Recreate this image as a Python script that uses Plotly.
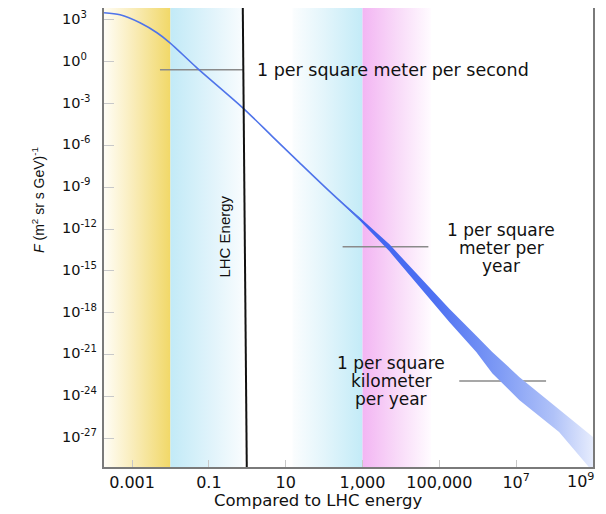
import numpy as np
import plotly.graph_objects as go

# ---- data (x: energy relative to LHC energy, y: flux F in (m^2 sr s GeV)^-1) ----
curve_energy = [1.87e-4, 4.88e-4, 1.61e-3, 4.46e-3, 9.7e-3, 0.0488, 0.764, 4.59, 23.1, 139]
curve_flux = [3300, 2370, 631, 121, 23.1, 0.371, 4.99e-4, 4.13e-6, 5.61e-8, 5.0e-10]

band_energy = [139, 836, 5020, 30300, 1.82e5, 9.14e5, 2.38e6, 1.20e7, 1.31e8, 1e9]
band_upper = [5.0e-10, 6.87e-12, 7.93e-14, 3.68e-16, 1.86e-18, 2.14e-20, 1.52e-21,
              2.44e-23, 1.23e-25, 1.20e-27]
band_lower = [5.0e-10, 4.19e-12, 2.49e-14, 7.05e-17, 2.16e-19, 1.52e-21, 4.47e-23,
              5.45e-25, 2.75e-27, 3.69e-30]

rate_labels = ["1 per square meter per second",
               ["1 per square", "meter per", "year"],
               ["1 per square", "kilometer", "per year"]]
rate_flux = [0.267, 5.24e-14, 1.26e-23]
rate_x0 = [5.33e-3, 303, 3.30e5]
rate_x1 = [0.764, 5.18e4, 6.0e7]
rate_label_x = [1.57, 4.07e6, 5.66e3]
rate_label_y = [0.267, 4.47e-14, 1.26e-23]

lhc_x = [0.97, 0.764]          # LHC energy marker (bottom, top)
lhc_label = "LHC Energy"

region_edges = [(1.86e-4, 0.01), (0.01, 0.76), (15, 1000), (1000, 6e4)]
region_colors = [
    [[0, "#fffdf6"], [0.45, "#f9ecb8"], [1, "#f1d868"]],
    [[0, "#c2eaf7"], [0.6, "#e2f4fb"], [1, "#f8fcfe"]],
    [[0, "#fbfdfe"], [0.45, "#e3f5fb"], [1, "#c3ebf7"]],
    [[0, "#f3b5f3"], [0.5, "#f8d9f8"], [1, "#fffbff"]],
]

x_tickvals = [1e-3, 0.1, 10, 1000, 1e5, 1e7, 1e9]
x_ticktext = ["0.001", "0.1", "10", "1,000", "100,000", "10<sup>7</sup>", "10<sup>9</sup>"]
y_tick_exp = list(range(3, -28, -3))

x_range = [-3.73, 9.0]
y_range = [-29.08, 3.86]

fig = go.Figure()

ylo, yhi = 10 ** y_range[0] / 10, 10 ** y_range[1] * 10
for (a, b), cs in zip(region_edges, region_colors):
    fig.add_trace(go.Scatter(
        x=[a, b, b, a, a], y=[ylo, ylo, yhi, yhi, ylo],
        mode="lines", line=dict(width=0), fill="toself",
        fillgradient=dict(type="horizontal", colorscale=cs),
        hoverinfo="skip", showlegend=False))

# reference rate lines
for x0, x1, f in zip(rate_x0, rate_x1, rate_flux):
    fig.add_trace(go.Scatter(x=[x0, x1], y=[f, f], mode="lines",
                             line=dict(color="#8a8a8a", width=1.5),
                             hoverinfo="skip", showlegend=False))

# uncertainty band
bx = band_energy + band_energy[::-1]
by = band_upper + band_lower[::-1]
fig.add_trace(go.Scatter(
    x=bx, y=by, mode="lines", line=dict(width=0), fill="toself",
    fillgradient=dict(type="horizontal", colorscale=[
        [0, "#3a5cf0"], [0.4, "#4e71f2"], [0.65, "#809cf5"],
        [0.85, "#b0c2f8"], [1, "#e6ecfd"]]),
    hoverinfo="skip", showlegend=False))

# thin flux curve
center = list(np.sqrt(np.array(band_upper[:2]) * np.array(band_lower[:2])))
fig.add_trace(go.Scatter(
    x=curve_energy + band_energy[1:2], y=curve_flux + center[1:2],
    mode="lines", line=dict(color="#4f74ea", width=1.6, shape="spline", smoothing=0.8),
    hoverinfo="skip", showlegend=False))

# LHC energy line
fig.add_trace(go.Scatter(x=lhc_x, y=[10 ** y_range[0], 10 ** y_range[1]], mode="lines",
                         line=dict(color="#111111", width=2),
                         hoverinfo="skip", showlegend=False))

txt_font = dict(family="DejaVu Sans", size=17, color="#111111")
ann = []
ann.append(dict(x=np.log10(rate_label_x[0]), y=np.log10(rate_label_y[0]), xref="x", yref="y",
                text=rate_labels[0], showarrow=False, xanchor="left", yanchor="middle",
                font=dict(family="DejaVu Sans", size=17.5, color="#111111")))
for k in (1, 2):
    for i, line in enumerate(rate_labels[k]):
        ann.append(dict(x=np.log10(rate_label_x[k]), y=np.log10(rate_label_y[k]),
                        xref="x", yref="y", text=line, showarrow=False,
                        xanchor="center", yanchor="middle", yshift=(1 - i) * 18,
                        font=txt_font))
ann.append(dict(x=np.log10(0.26), y=-12.56, xref="x", yref="y", text=lhc_label,
                textangle=-90, showarrow=False,
                font=dict(family="Liberation Sans", size=15, color="#111111")))
# y tick labels
for e in y_tick_exp:
    ann.append(dict(x=-0.09, y=e, xref="paper", yref="y",
                    text="10<sup>%d</sup>" % e, showarrow=False,
                    xanchor="left", yanchor="middle", yshift=2,
                    font=dict(family="DejaVu Sans", size=14.5, color="#111111")))
# last x tick label, kept inside the visible window
ann.append(dict(x=np.log10(x_tickvals[-1]), y=0, xref="x", yref="paper",
                text=x_ticktext[-1], showarrow=False, xanchor="right", yanchor="top",
                xshift=3, yshift=-1,
                font=dict(family="DejaVu Sans", size=16, color="#111111")))
# axis titles
ann.append(dict(x=-0.1575, y=0.5817, xref="paper", yref="paper",
                text="<i>F</i> (m<sup>2</sup> sr s GeV)<sup>-1</sup>", textangle=-90,
                showarrow=False, font=dict(family="Liberation Sans", size=14, color="#111111")))
ann.append(dict(x=0.437, y=-0.072, xref="paper", yref="paper", yanchor="middle",
                text="Compared to LHC energy", showarrow=False,
                font=dict(family="DejaVu Sans", size=16.5, color="#111111")))

# page body has an 8px margin: figure is shifted by (8, 8)
fig.update_layout(
    width=606, height=506,
    margin=dict(l=96, r=21, t=0, b=47),
    paper_bgcolor="white", plot_bgcolor="white",
    showlegend=False, annotations=ann,
    xaxis=dict(type="log", range=x_range, tickvals=x_tickvals,
               ticktext=x_ticktext[:-1] + [""],
               ticks="inside", ticklen=7, tickcolor="#c8c8c8", tickwidth=1.2,
               showgrid=False, zeroline=False, showline=True, mirror=True,
               linecolor="#7a7a7a", linewidth=1.5, automargin=False,
               ticklabelstandoff=0,
               tickfont=dict(family="DejaVu Sans", size=16, color="#111111")),
    yaxis=dict(type="log", range=y_range, tickvals=[10.0 ** e for e in y_tick_exp],
               showticklabels=False,
               ticks="inside", ticklen=10, tickcolor="#c8c8c8", tickwidth=1.2,
               showgrid=False, zeroline=False, showline=True, mirror=True,
               linecolor="#7a7a7a", linewidth=1.5, automargin=False),
)

fig.write_html("out.html")
